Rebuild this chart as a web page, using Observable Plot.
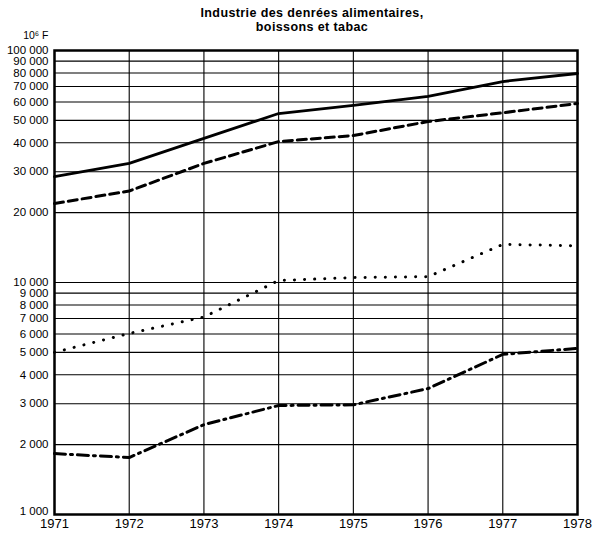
<!DOCTYPE html>
<html>
<head>
<meta charset="utf-8">
<script src="https://cdn.jsdelivr.net/npm/d3@7"></script>
<script src="https://cdn.jsdelivr.net/npm/@observablehq/plot@0.6"></script>
<style>
  body { margin: 0; background: #fff; }
  #chart { position: relative; width: 594px; height: 536px; }
  svg { font-family: "Liberation Sans", Arial, sans-serif; }
</style>
</head>
<body>
<div id="chart"></div>
<script>
const years = [1971, 1972, 1973, 1974, 1975, 1976, 1977, 1978];
const serieA = [28600, 32600, 41800, 53500, 58000, 63400, 73500, 79600]; // solid
const serieB = [21900, 24800, 32600, 40500, 43000, 49400, 53900, 59100]; // dashed
const serieC = [5000, 6030, 7100, 10200, 10500, 10600, 14600, 14400];     // dotted
const serieD = [1830, 1760, 2440, 2950, 2970, 3490, 4900, 5200];          // dash-dot
const yTicks = [1000, 2000, 3000, 4000, 5000, 6000, 7000, 8000, 9000, 10000,
                20000, 30000, 40000, 50000, 60000, 70000, 80000, 90000, 100000];
const titleLines = ["Industrie des denrées alimentaires,", "boissons et tabac"];
const unitLabel = "10⁶ F";

const mk = (vals) => years.map((y, i) => ({year: y, value: vals[i]}));
const fmt = (v) => d3.format(",")(v).replace(/,/g, "\u00a0");

const plot = Plot.plot({
  width: 594,
  height: 536,
  marginLeft: 54,
  marginRight: 17,
  marginTop: 50,
  marginBottom: 22,
  style: {fontSize: "11px", fontFamily: "'Liberation Sans', Arial, sans-serif", color: "#000", background: "#fff"},
  x: {domain: [1971, 1978], label: null, axis: null},
  y: {type: "log", domain: [1000, 100000], label: null, axis: null},
  marks: [
    Plot.ruleY(yTicks, {stroke: "#000", strokeWidth: 1.1}),
    Plot.ruleX(years, {stroke: "#000", strokeWidth: 1.1}),
    Plot.frame({stroke: "#000", strokeWidth: 2.5}),
    Plot.text(yTicks.slice(1), {y: d => d, text: fmt, frameAnchor: "left", textAnchor: "end", dx: -6, fontSize: 11.5}),
    Plot.text(yTicks.slice(0, 1), {y: d => d, text: fmt, frameAnchor: "left", textAnchor: "end", dx: -6, dy: -3, fontSize: 11.5}),
    Plot.text(years, {x: d => d, text: d => String(d), frameAnchor: "bottom", lineAnchor: "top", dy: 4, fontSize: 13}),
    Plot.line(mk(serieA), {x: "year", y: "value", stroke: "#000", strokeWidth: 2.8}),
    Plot.line(mk(serieB), {x: "year", y: "value", stroke: "#000", strokeWidth: 3, strokeDasharray: "9,5"}),
    Plot.line(mk(serieC), {x: "year", y: "value", stroke: "#000", strokeWidth: 3, strokeDasharray: "0.1,10", strokeLinecap: "round"}),
    Plot.line(mk(serieD), {x: "year", y: "value", stroke: "#000", strokeWidth: 3, strokeDasharray: "11,5,2,5"}),
    Plot.text([titleLines.join("\n")], {frameAnchor: "top", dx: -4, dy: -43, fontSize: 12.5, fontWeight: "bold", lineHeight: 1.12, lineAnchor: "top"}),
    Plot.text([unitLabel], {frameAnchor: "top-left", dx: -6, dy: -19, fontSize: 10.5, textAnchor: "end"})
  ]
});
d3.select(plot).selectAll("text, tspan").filter(function() { return this.textContent.startsWith("Industrie") || this.textContent.startsWith("boissons"); })
  .style("letter-spacing", "0.4px");
document.getElementById("chart").appendChild(plot);
</script>
</body>
</html>
